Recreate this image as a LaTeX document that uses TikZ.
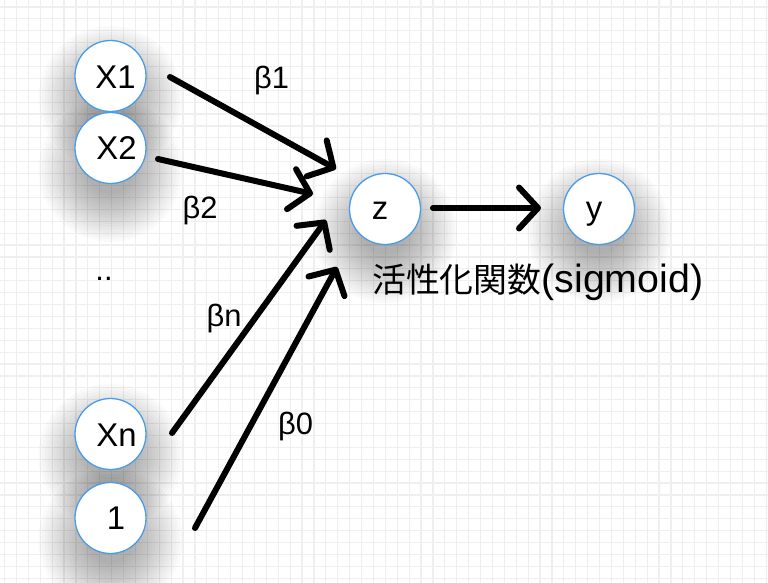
\documentclass[tikz,border=0pt]{standalone}
\usepackage{fontspec}
\newfontfamily\lblfont{Liberation Sans}
\newfontfamily\cjkfont{Noto Sans CJK JP}
\usetikzlibrary{arrows.meta}
\definecolor{nodeblue}{RGB}{74,155,232}
\definecolor{gridgray}{RGB}{239,239,239}
\begin{document}
\begin{tikzpicture}[x=1bp,y=-1bp,
  neuron/.style={circle,draw=nodeblue,line width=1.3bp,fill=white,minimum size=71bp,inner sep=0pt},
  shadowlayer/.style={fill=black,fill opacity=0.019},
  lbl/.style={anchor=base,inner sep=0pt,font=\lblfont\fontsize{33}{36}\selectfont},
  wlbl/.style={anchor=base,inner sep=0pt,font=\lblfont\fontsize{31}{34}\selectfont},
  conn/.style={line width=6bp,line cap=round,line join=round,-{Straight Barb[length=19bp,width=41bp,round]}}]
\useasboundingbox (0,0) rectangle (768,583);
\fill[white] (0,0) rectangle (768,583);
\foreach \i in {0,...,64} \draw[gridgray,line width=1.2bp] (4.5+\i*11.9,0) -- (4.5+\i*11.9,583);
\foreach \i in {0,...,48} \draw[gridgray,line width=1.2bp] (0,7+\i*11.9) -- (768,7+\i*11.9);

\coordinate (cx1) at (110.5,76);
\coordinate (cx2) at (110.5,148);
\coordinate (cxn) at (110.5,434);
\coordinate (cone) at (110.5,518);
\coordinate (cz) at (385,209);
\coordinate (cy) at (599,209);

\foreach \c in {cx1,cx2,cxn,cone,cz,cy}
  \foreach \k in {0,...,16}
    \fill[shadowlayer] (\c) ++(0,22) circle ({24+\k*3});

\node[neuron] (x1) at (cx1) {};
\node[neuron] (x2) at (cx2) {};
\node[neuron] (xn) at (cxn) {};
\node[neuron] (one) at (cone) {};
\node[neuron] (z) at (cz) {};
\node[neuron] (y) at (cy) {};

\node[lbl] (tx1) at (115.5,88.3) {X1};
\node[lbl] (tx2) at (116.5,160) {X2};
\node[lbl] (txn) at (116.5,446) {Xn};
\node[lbl] (tone) at (116,529.3) {1};
\node[lbl] (tz) at (380,219.3) {z};
\node[lbl] (ty) at (594,219.3) {y};

\node[wlbl] (b1) at (271.7,88.3) {β1};
\node[wlbl] (b2) at (200,218.3) {β2};
\node[wlbl] (bn) at (224,326.7) {βn};
\node[wlbl] (b0) at (295.5,434) {β0};
\node[wlbl] (dots) at (104,280) {..};
\node[anchor=base west,inner sep=0pt] (act) at (372,292)
  {{\cjkfont\fontsize{34}{40}\selectfont 活性化関数}{\lblfont\fontsize{39.5}{42}\selectfont(sigmoid)}};

\coordinate (a1s) at (170,77);  \coordinate (a1e) at (336,169);
\coordinate (a2s) at (158,159); \coordinate (a2e) at (313,194);
\coordinate (ans) at (172,433); \coordinate (ane) at (326,220);
\coordinate (a0s) at (195,528); \coordinate (a0e) at (337,267);
\coordinate (azs) at (433,208); \coordinate (aze) at (541,208);

\draw[conn] (a1s) -- (a1e);
\draw[conn] (a2s) -- (a2e);
\draw[conn] (ans) -- (ane);
\draw[conn] (a0s) -- (a0e);
\draw[conn] (azs) -- (aze);
\end{tikzpicture}
\end{document}
